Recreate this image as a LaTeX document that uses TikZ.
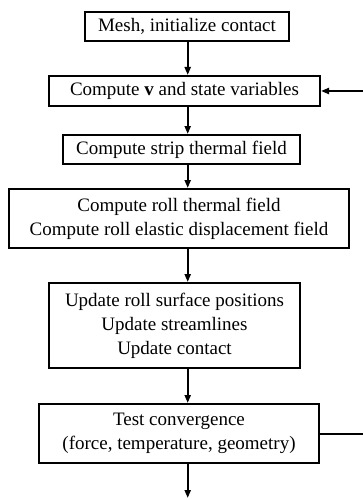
\documentclass[tikz,border=0pt]{standalone}
\usepackage{fontspec}
\setmainfont{Liberation Serif}
\usetikzlibrary{arrows.meta}
\begin{document}
\begin{tikzpicture}[x=1pt,y=-1pt,
  box/.style={draw=black,line width=2pt,inner sep=0pt,align=center,
    font=\fontsize{19}{24}\selectfont},
  arr/.style={line width=2pt,-{Triangle[length=8pt,width=6pt]}},
  ln/.style={line width=2pt}]
\useasboundingbox (0,0) rectangle (363,500);
\node[box,minimum width=204,minimum height=29] (b1) at (187,26.5) {Mesh, initialize contact};
\node[box,minimum width=271,minimum height=30] (b2) at (184.5,91) {Compute \textbf{v} and state variables};
\node[box,minimum width=237,minimum height=29] (b3) at (181.5,149.5) {Compute strip thermal field};
\node[box,minimum width=340,minimum height=59] (b4) at (179,218.5) {Compute roll thermal field\\Compute roll elastic displacement field};
\node[box,minimum width=251,minimum height=85] (b5) at (174.5,325.5) {Update roll surface positions\\Update streamlines\\Update contact};
\node[box,minimum width=280,minimum height=59] (b6) at (179,433.5) {Test convergence\\(force, temperature, geometry)};
\coordinate (ax) at (187.7,0);
\coordinate (rt) at (364,0);
\coordinate (endp) at (187.7,498);
\draw[arr] (b1.south -| ax) -- (b2.north -| ax);
\draw[arr] (b2.south -| ax) -- (b3.north -| ax);
\draw[arr] (b3.south -| ax) -- (b4.north -| ax);
\draw[arr] (b4.south -| ax) -- (b5.north -| ax);
\draw[arr] (b5.south -| ax) -- (b6.north -| ax);
\draw[arr] (b6.south -| ax) -- (endp);
\draw[ln] (b6.east) -- (b6.east -| rt);
\draw[arr] (b2.east -| rt) -- (b2.east);
\end{tikzpicture}
\end{document}
